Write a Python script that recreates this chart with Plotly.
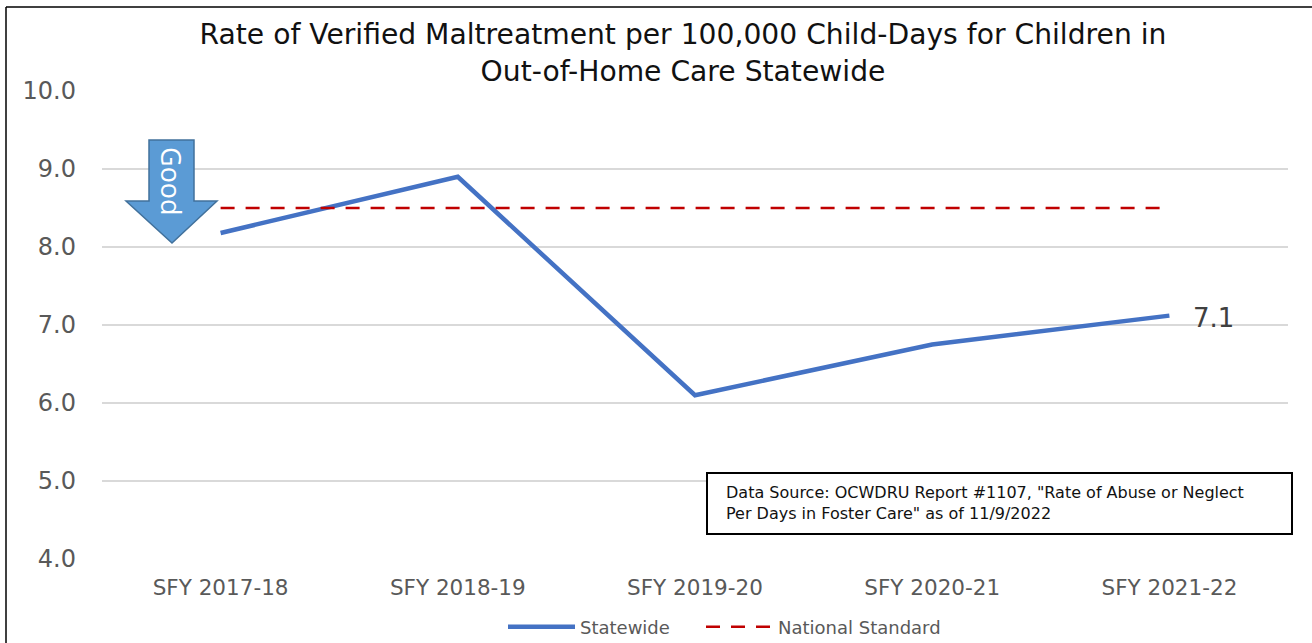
import plotly.graph_objects as go

W, H = 1312, 643
categories = ["SFY 2017-18", "SFY 2018-19", "SFY 2019-20", "SFY 2020-21", "SFY 2021-22"]
statewide = [8.18, 8.9, 6.1, 6.75, 7.12]
national_standard = [8.5, 8.5, 8.5, 8.5, 8.5]
tick_values = [4, 5, 6, 7, 8, 9, 10]
tick_labels = ["4.0", "5.0", "6.0", "7.0", "8.0", "9.0", "10.0"]
title_text = "Rate of Verified Maltreatment per 100,000 Child-Days for Children in<br>Out-of-Home Care Statewide"
source_text = 'Data Source: OCWDRU Report #1107, "Rate of Abuse or Neglect<br>Per Days in Foster Care" as of 11/9/2022'
FONT = "DejaVu Sans"
GREY = "#595959"
L, R, T, B = 102, 1288, 91, 559

def px(x): return (x - L) / (R - L)
def py(y): return (B - y) / (B - T)

fig = go.Figure()
fig.add_trace(go.Scatter(x=categories, y=statewide, name="Statewide", mode="lines", legend="legend",
                         line=dict(color="#4472C4", width=4.5)))
fig.add_trace(go.Scatter(x=categories, y=national_standard, name="National Standard", mode="lines", legend="legend2",
                         line=dict(color="#C00000", width=2.5, dash="14px 11px")))

arrow = [(149, 140), (194, 140), (194, 201), (217, 201), (172, 243), (126, 201), (149, 201)]
path = "M " + " L ".join(f"{px(a):.5f} {py(b):.5f}" for a, b in arrow) + " Z"

legend_common = dict(orientation="h", xref="container", yref="container", xanchor="left",
                     y=1 - 627 / H, yanchor="middle", font=dict(size=18, color=GREY),
                     itemwidth=67, bgcolor="rgba(0,0,0,0)")

fig.update_layout(
    width=W, height=H, autosize=False,
    paper_bgcolor="white", plot_bgcolor="white",
    margin=dict(l=L, r=W - R, t=T, b=H - B),
    font=dict(family=FONT, color=GREY),
    showlegend=True,
    legend=dict(x=503 / W, **legend_common),
    legend2=dict(x=701 / W, **legend_common),
    title=dict(text=title_text, x=683 / W, xanchor="center", y=0.931, yanchor="middle",
               font=dict(size=28.2, color="#111111", family=FONT)),
    xaxis=dict(type="category", range=[-0.5, 4.5], showgrid=False, showline=False, zeroline=False,
               automargin=False, ticks="", tickfont=dict(size=21.5, color=GREY), ticklabelstandoff=13),
    yaxis=dict(range=[4, 10], tickvals=tick_values, ticktext=tick_labels, showgrid=True,
               automargin=False, gridcolor="#D9D9D9", gridwidth=1.5, zeroline=False, showline=False,
               ticks="", tickfont=dict(size=24, color=GREY), ticklabelstandoff=25),
    shapes=[
        dict(type="path", xref="paper", yref="paper", path=path, fillcolor="#5B9BD5",
             line=dict(color="#41719C", width=1.5), layer="above"),
        dict(type="rect", xref="paper", yref="paper", x0=px(707), x1=px(1292), y0=py(534), y1=py(473),
             fillcolor="white", line=dict(color="black", width=2), layer="above"),
        dict(type="line", xref="paper", yref="paper", x0=px(6), x1=px(6), y0=py(7), y1=py(H),
             line=dict(color="black", width=1.5), layer="above"),
        dict(type="line", xref="paper", yref="paper", x0=px(6), x1=px(W), y0=py(7), y1=py(7),
             line=dict(color="black", width=1.5), layer="above"),
    ],
    annotations=[
        dict(x=categories[-1], y=statewide[-1], xref="x", yref="y", text="7.1", showarrow=False,
             xanchor="left", yanchor="middle", xshift=22, yshift=-2,
             font=dict(size=26, color="#404040")),
        dict(x=px(172), y=py(181), xref="paper", yref="paper", text="Good", showarrow=False,
             textangle=90, xanchor="center", yanchor="middle",
             font=dict(size=27, color="white", family="Open Sans")),
        dict(x=px(724), y=py(503), xref="paper", yref="paper", text=source_text, showarrow=False,
             align="left", xanchor="left", yanchor="middle",
             font=dict(size=16, color="#111111", family=FONT)),
    ],
)
fig.write_html("out.html", config=dict(displayModeBar=False),
               post_script="document.body.style.margin='0';document.body.style.overflow='hidden';")
